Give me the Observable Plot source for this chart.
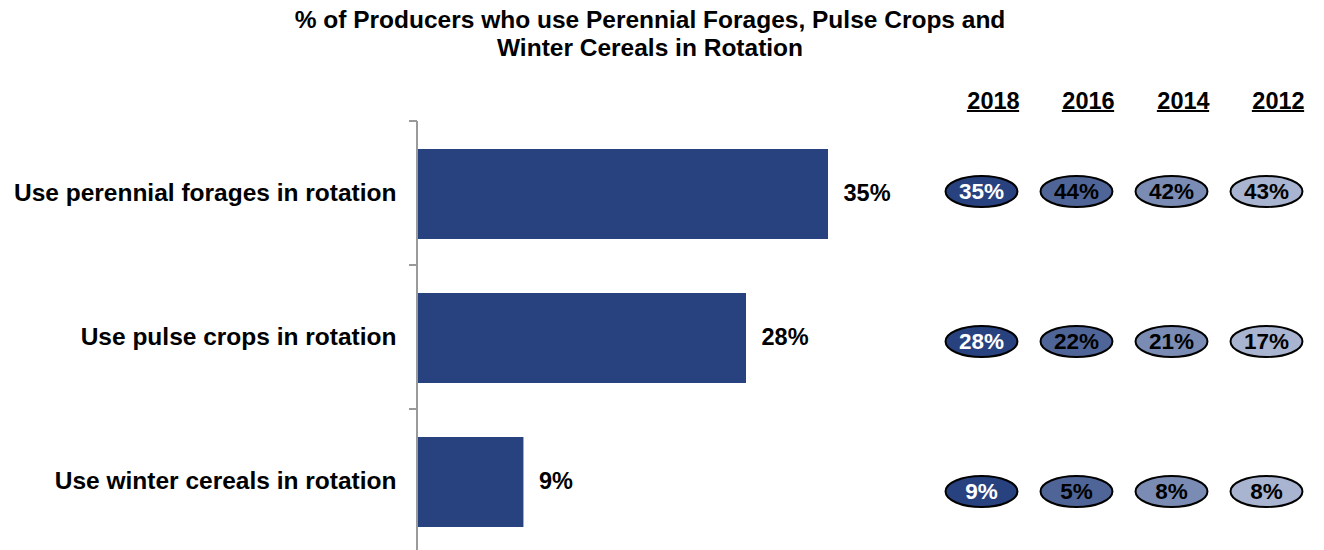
<!DOCTYPE html>
<html>
<head>
<meta charset="utf-8">
<script src="https://cdn.jsdelivr.net/npm/d3@7"></script>
<script src="https://cdn.jsdelivr.net/npm/@observablehq/plot@0.6"></script>
<style>
  html, body { margin: 0; padding: 0; background: #fff; overflow: hidden; }
  body { width: 1324px; height: 550px; font-family: "Liberation Sans", Arial, sans-serif; }
  #title { position: absolute; left: 0; top: 6px; width: 1300px; text-align: center;
           font-weight: bold; font-size: 24.5px; line-height: 28px; color: #000; }
  #chart { position: absolute; left: 0; top: 65px; width: 1324px; height: 485px; }
  #left { position: absolute; left: 0; top: 0; }
  #right { position: absolute; left: 930px; top: 0; }
  svg { overflow: visible; }
</style>
</head>
<body>
<div id="title">% of Producers who use Perennial Forages, Pulse Crops and<br>Winter Cereals in Rotation</div>
<div id="chart"><div id="left"></div><div id="right"></div></div>
<script>
// ---- data ----
const categories = ["Use perennial forages in rotation", "Use pulse crops in rotation", "Use winter cereals in rotation"];
const years = ["2018", "2016", "2014", "2012"];
const share2018 = [35, 28, 9];
const share2016 = [44, 22, 5];
const share2014 = [42, 21, 8];
const share2012 = [43, 17, 8];
const yearColors = ["#27427F", "#4F6597", "#7A8CB4", "#A8B4D0"];

const bars = categories.map((c, i) => ({category: c, value: share2018[i]}));
const byYear = {"2018": share2018, "2016": share2016, "2014": share2014, "2012": share2012};
const cells = years.flatMap(y => categories.map((c, i) => ({year: y, category: c, value: byYear[y][i]})));

const FONT = "Liberation Sans, Arial, sans-serif";
const yScale = {type: "band", domain: categories, padding: 0};

// boundary ticks + axis line drawn with the plot's own y scale
function boundaryAxis(index, scales, values, dims) {
  const y = scales.y, x = scales.x;
  const step = y(categories[1]) - y(categories[0]);
  const ys = categories.map(c => y(c)).concat([y(categories[categories.length - 1]) + step]);
  const x0 = x(0) - 1;
  const g = d3.create("svg:g").attr("stroke", "#9a9a9a").attr("stroke-width", 2);
  g.append("line").attr("x1", x0).attr("x2", x0).attr("y1", ys[0]).attr("y2", ys[ys.length - 1] + 10);
  for (const v of ys) g.append("line").attr("x1", x0 - 8).attr("x2", x0).attr("y1", v).attr("y2", v);
  return g.node();
}

const left = Plot.plot({
  width: 930, height: 488,
  marginLeft: 418, marginRight: 102, marginTop: 55, marginBottom: 0,
  style: {fontFamily: FONT, background: "transparent"},
  x: {domain: [0, 35], axis: null},
  y: {...yScale, axis: null},
  marks: [
    Plot.barX(bars, {x: "value", y: "category", fill: "#27427F", insetTop: 28, insetBottom: 26}),
    boundaryAxis,
    Plot.text(bars, {x: 0, y: "category", text: "category", textAnchor: "end", dx: -22,
      fontSize: 24.5, fontWeight: "bold", fill: "#000"}),
    Plot.text(bars, {x: "value", y: "category", text: d => d.value + "%", textAnchor: "start", dx: 15,
      fontSize: 23.5, fontWeight: "bold", fill: "#000"})
  ]
});
document.getElementById("left").append(left);

const k = 0.5523;
const ellipse = {
  draw(context, size) {
    const r = Math.sqrt(size / Math.PI), rx = r * 2.32, ry = r;
    context.moveTo(rx, 0);
    context.bezierCurveTo(rx, ry * k, rx * k, ry, 0, ry);
    context.bezierCurveTo(-rx * k, ry, -rx, ry * k, -rx, 0);
    context.bezierCurveTo(-rx, -ry * k, -rx * k, -ry, 0, -ry);
    context.bezierCurveTo(rx * k, -ry, rx, -ry * k, rx, 0);
    context.closePath();
  }
};

const headerSize = 23.5;
const headerShift = 12;
const measure = document.createElement("canvas").getContext("2d");
measure.font = `bold ${headerSize}px ${FONT}`;

// underline for the year headers, placed with the x scale
function headerUnderline(index, scales, values, dims) {
  const g = d3.create("svg:g").attr("stroke", "#000").attr("stroke-width", 2);
  for (const yr of years) {
    const cx = scales.x(yr) + headerShift, w = measure.measureText(yr).width;
    g.append("line").attr("x1", cx - w / 2).attr("x2", cx + w / 2)
      .attr("y1", dims.marginTop - 4).attr("y2", dims.marginTop - 4);
  }
  return g.node();
}

const right = Plot.plot({
  width: 394, height: 502,
  marginLeft: 50, marginRight: 58, marginTop: 50, marginBottom: 0,
  style: {fontFamily: FONT, background: "transparent"},
  x: {type: "point", domain: years, padding: 0, axis: null},
  y: {...yScale, axis: null},
  color: {domain: years, range: yearColors},
  marks: [
    Plot.text(years, {x: d => d, frameAnchor: "top", dx: headerShift, dy: -23, text: d => d,
      fontSize: headerSize, fontWeight: "bold", fill: "#000"}),
    headerUnderline,
    Plot.dot(cells, {x: "year", y: "category", fill: "year", symbol: ellipse, r: 15.5,
      stroke: "#000", strokeWidth: 2}),
    Plot.text(cells, {x: "year", y: "category", text: d => d.value + "%",
      fill: d => d.year === "2018" ? "#fff" : "#000", fontSize: 22.5, fontWeight: "bold"})
  ]
});
document.getElementById("right").append(right);
</script>
</body>
</html>
